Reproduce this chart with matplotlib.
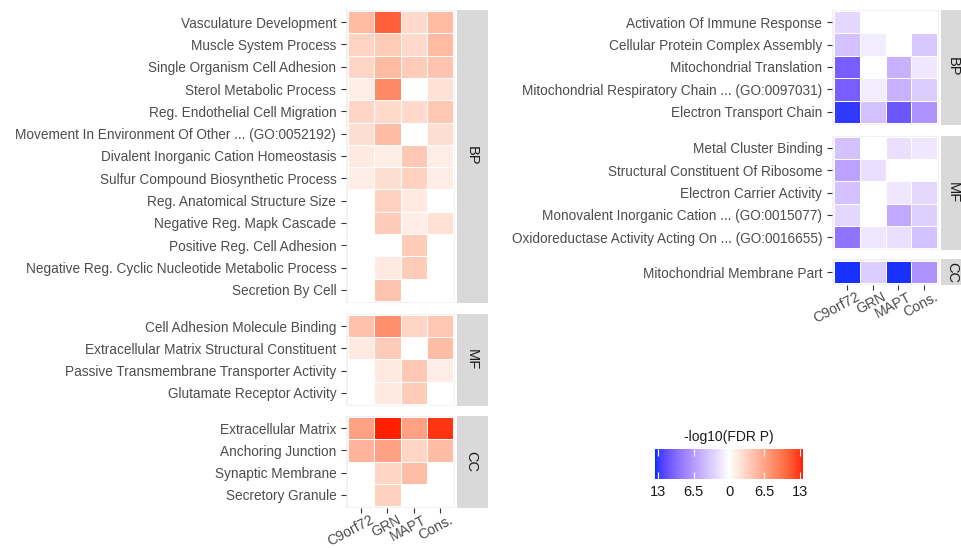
import numpy as np
import matplotlib
matplotlib.use("Agg")
import matplotlib.pyplot as plt
from matplotlib.colors import ListedColormap, Normalize, to_rgb
from matplotlib.cm import ScalarMappable
from matplotlib.transforms import ScaledTranslation

plt.rcParams['font.family'] = ['Liberation Sans', 'DejaVu Sans']

columns = ["C9orf72", "GRN", "MAPT", "Cons."]
nan = np.nan

# left block (enriched, positive)
up_bp_terms = ["Vasculature Development", "Muscle System Process",
               "Single Organism Cell Adhesion", "Sterol Metabolic Process",
               "Reg. Endothelial Cell Migration",
               "Movement In Environment Of Other ... (GO:0052192)",
               "Divalent Inorganic Cation Homeostasis",
               "Sulfur Compound Biosynthetic Process",
               "Reg. Anatomical Structure Size", "Negative Reg. Mapk Cascade",
               "Positive Reg. Cell Adhesion",
               "Negative Reg. Cyclic Nucleotide Metabolic Process",
               "Secretion By Cell"]
up_bp_vals = [[5.0, 11.0, 2.7, 5.0],
              [3.2, 3.8, 2.7, 5.0],
              [3.0, 5.0, 3.7, 4.3],
              [1.3, 8.5, nan, 2.2],
              [3.0, 2.8, 2.7, 4.1],
              [2.4, 4.8, nan, 2.4],
              [1.6, 1.3, 4.0, 1.3],
              [1.3, 2.4, 3.4, 1.3],
              [nan, 3.4, 1.6, nan],
              [nan, 3.7, 1.3, 2.2],
              [nan, nan, 3.7, nan],
              [nan, 1.6, 3.7, nan],
              [nan, 4.3, nan, nan]]

up_mf_terms = ["Cell Adhesion Molecule Binding",
               "Extracellular Matrix Structural Constituent",
               "Passive Transmembrane Transporter Activity",
               "Glutamate Receptor Activity"]
up_mf_vals = [[4.5, 8.0, 3.0, 4.1],
              [1.6, 3.7, nan, 4.8],
              [nan, 1.6, 4.0, 1.3],
              [nan, 1.6, 3.7, nan]]

up_cc_terms = ["Extracellular Matrix", "Anchoring Junction",
               "Synaptic Membrane", "Secretory Granule"]
up_cc_vals = [[6.8, 13.6, 6.8, 13.0],
              [5.4, 6.8, 3.0, 4.8],
              [nan, 3.0, 4.8, nan],
              [nan, 3.4, nan, nan]]

# right block (depleted, negative)
dn_bp_terms = ["Activation Of Immune Response",
               "Cellular Protein Complex Assembly",
               "Mitochondrial Translation",
               "Mitochondrial Respiratory Chain ... (GO:0097031)",
               "Electron Transport Chain"]
dn_bp_vals = [[-2.5, nan, nan, nan],
              [-4.0, -1.2, nan, -3.5],
              [-10.5, nan, -5.0, -1.5],
              [-10.5, -1.2, -5.0, -3.2],
              [-13.0, -4.0, -11.0, -7.0]]

dn_mf_terms = ["Metal Cluster Binding", "Structural Constituent Of Ribosome",
               "Electron Carrier Activity",
               "Monovalent Inorganic Cation ... (GO:0015077)",
               "Oxidoreductase Activity Acting On ... (GO:0016655)"]
dn_mf_vals = [[-4.0, nan, -2.0, -1.5],
              [-6.0, -2.0, nan, nan],
              [-4.0, nan, -1.5, -2.5],
              [-2.5, nan, -5.5, -3.0],
              [-9.0, -1.5, -2.0, -4.0]]

dn_cc_terms = ["Mitochondrial Membrane Part"]
dn_cc_vals = [[-13.4, -3.2, -13.4, -7.0]]

lim = 13.6
cbar_ticks = [-13, -6.5, 0, 6.5, 13]
cbar_labels = ["13", "6.5", "0", "6.5", "13"]


# gradient2 style palette: blue - white - red, interpolated in Lab
def srgb_to_lab(rgb):
    c = np.array(rgb, dtype=float)
    c = np.where(c > 0.04045, ((c + 0.055) / 1.055) ** 2.4, c / 12.92)
    m = np.array([[0.4124, 0.3576, 0.1805],
                  [0.2126, 0.7152, 0.0722],
                  [0.0193, 0.1192, 0.9505]])
    xyz = m @ c / np.array([0.95047, 1.0, 1.08883])
    f = np.where(xyz > 0.008856, np.cbrt(xyz), 7.787 * xyz + 16 / 116)
    return np.array([116 * f[1] - 16, 500 * (f[0] - f[1]), 200 * (f[1] - f[2])])


def lab_to_srgb(lab):
    fy = (lab[:, 0] + 16) / 116
    fx = fy + lab[:, 1] / 500
    fz = fy - lab[:, 2] / 200
    f = np.stack([fx, fy, fz], axis=1)
    xyz = np.where(f > 0.2069, f ** 3, (f - 16 / 116) / 7.787)
    xyz = xyz * np.array([0.95047, 1.0, 1.08883])
    minv = np.array([[3.2406, -1.5372, -0.4986],
                     [-0.9689, 1.8758, 0.0415],
                     [0.0557, -0.2040, 1.0570]])
    c = xyz @ minv.T
    c = np.where(c > 0.0031308, 1.055 * np.clip(c, 0, None) ** (1 / 2.4) - 0.055, 12.92 * c)
    return np.clip(c, 0, 1)


lab_lo = srgb_to_lab(to_rgb("#0030FF"))
lab_mid = srgb_to_lab([1, 1, 1])
lab_hi = srgb_to_lab(to_rgb("#FF2000"))
t = np.linspace(-1, 1, 513)
labs = np.array([lab_mid + (-x) * (lab_lo - lab_mid) if x < 0 else lab_mid + x * (lab_hi - lab_mid) for x in t])
cmap = ListedColormap(lab_to_srgb(labs))
norm = Normalize(-lim, lim)

W, H = 961, 548
fig = plt.figure(figsize=(W / 100, H / 100), dpi=100)


def box(left, top, right, bottom):
    return [left / W, 1 - bottom / H, (right - left) / W, (bottom - top) / H]


def facet(terms, vals, left, right, top, bottom, strip, strip_w=31, text_x=15, label_x=False):
    ax = fig.add_axes(box(left, top, right, bottom))
    arr = np.nan_to_num(np.array(vals, dtype=float))
    n = len(terms)
    ax.set_facecolor("#F2F2F2")
    ax.pcolormesh(np.arange(5) - 0.5, np.arange(n + 1) - 0.5, arr,
                  cmap=cmap, norm=norm, edgecolors="white", linewidth=0.6)
    ax.set_xlim(-0.56, 3.56)
    ax.set_ylim(n - 0.5 + 0.06, -0.56)
    ax.set_yticks(range(n))
    ax.set_yticklabels(terms, fontsize=9.8, color="#4D4D4D")
    ax.set_xticks(range(4))
    ax.tick_params(axis="y", length=3.5, width=0.8, color="#333333", pad=3.5)
    ax.tick_params(axis="x", length=3.5, width=0.8, color="#333333", pad=1.5)
    if label_x:
        labs_x = ax.set_xticklabels(columns, fontsize=10.2, color="#4D4D4D", rotation=28,
                                    ha="right", va="top", rotation_mode="anchor")
        shift = ScaledTranslation(9 / 100, 2 / 100, fig.dpi_scale_trans)
        for lb in labs_x:
            lb.set_transform(lb.get_transform() + shift)
    else:
        ax.tick_params(axis="x", bottom=False, labelbottom=False)
    for s in ax.spines.values():
        s.set_visible(False)

    sx = fig.add_axes(box(right + 1.5, top, right + 1.5 + strip_w, bottom))
    sx.set_facecolor("#D9D9D9")
    sx.set_xticks([])
    sx.set_yticks([])
    for s in sx.spines.values():
        s.set_visible(False)
    sx.text(text_x / strip_w, 0.5, strip, rotation=-90, ha="center", va="center",
            fontsize=10.5, color="#1A1A1A", transform=sx.transAxes)
    return ax


# left block
facet(up_bp_terms, up_bp_vals, 346, 455, 9.5, 302.5, "BP")
facet(up_mf_terms, up_mf_vals, 346, 455, 313.5, 405.5, "MF")
facet(up_cc_terms, up_cc_vals, 346, 455, 415.5, 507.5, "CC", label_x=True)

# right block (strip runs off the right edge as in the original)
facet(dn_bp_terms, dn_bp_vals, 832, 939, 9.5, 124.5, "BP", strip_w=24, text_x=12)
facet(dn_mf_terms, dn_mf_vals, 832, 939, 135.5, 249.5, "MF", strip_w=24, text_x=12)
facet(dn_cc_terms, dn_cc_vals, 832, 939, 259.5, 284.5, "CC", strip_w=24, text_x=12, label_x=True)

# colour legend
cax = fig.add_axes(box(655, 449, 803, 479))
cb = fig.colorbar(ScalarMappable(norm=norm, cmap=cmap), cax=cax, orientation="horizontal")
cb.outline.set_visible(False)
cb.set_ticks(cbar_ticks)
cb.set_ticklabels(cbar_labels)
cax.xaxis.set_ticks_position("both")
cax.tick_params(direction="in", length=5, width=0.8, color="white",
                labelsize=10.5, labelcolor="#1A1A1A", pad=4)
cax.text(0.5, 1.15, "-log10(FDR P)", ha="center", va="bottom", fontsize=10,
         color="#1A1A1A", transform=cax.transAxes)

fig.savefig("out.png", dpi=100)
